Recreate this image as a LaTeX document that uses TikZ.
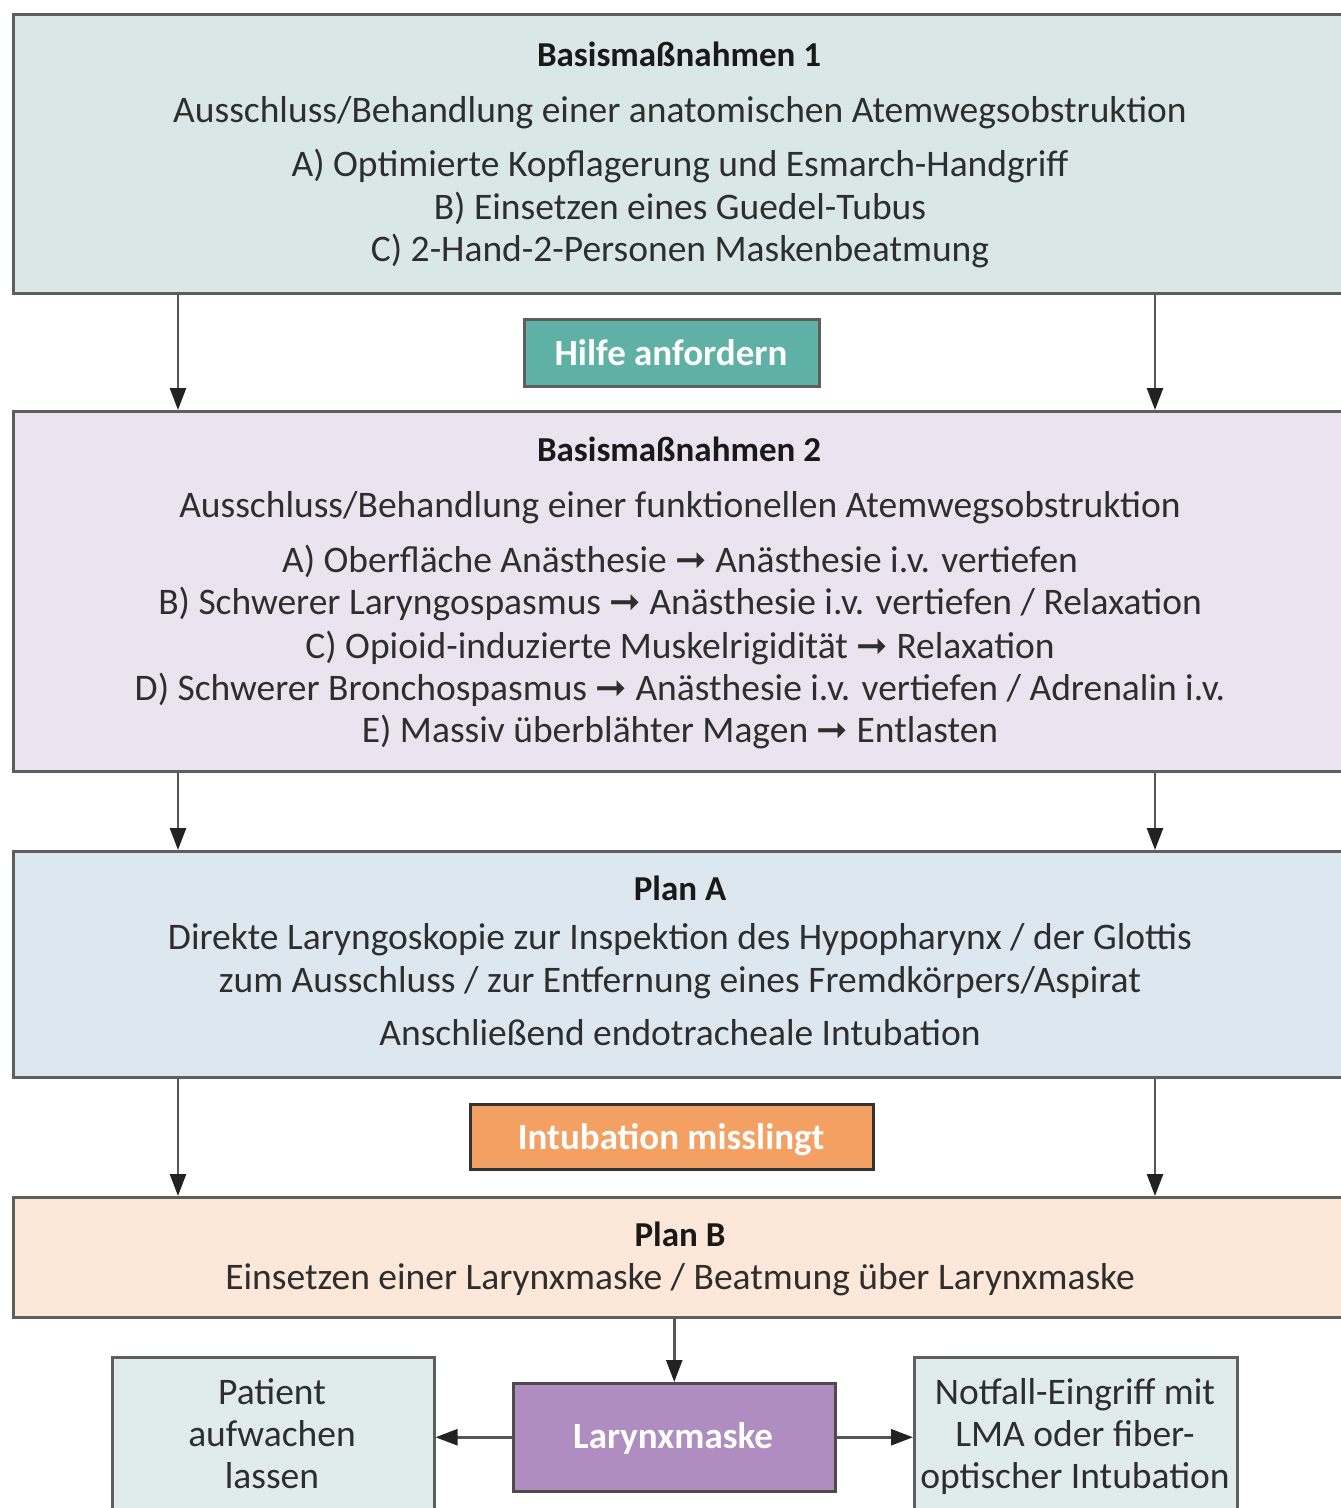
\documentclass[tikz,border=0pt]{standalone}
\usepackage{fontspec}
\setmainfont{Carlito}
\newfontfamily\symfont{DejaVu Sans}
\usetikzlibrary{arrows.meta}
\definecolor{bordc}{HTML}{5E5E5E}
\definecolor{linec}{HTML}{555555}
\definecolor{tipc}{HTML}{222222}
\definecolor{textc}{HTML}{2E2E2E}
\definecolor{fillone}{HTML}{D9E8E7}
\definecolor{filltwo}{HTML}{EBE3F0}
\definecolor{fillpa}{HTML}{DCE7F0}
\definecolor{fillpb}{HTML}{FDE7D9}
\definecolor{fillhelp}{HTML}{5FB0A5}
\definecolor{fillfail}{HTML}{F4A062}
\definecolor{filllm}{HTML}{B08DC1}
\definecolor{fillend}{HTML}{E0ECEA}
\newcommand{\myarrow}{{\symfont\char"279E}}
\begin{document}
\begin{tikzpicture}[x=1pt,y=-1pt,
  box/.style={draw=bordc, line width=2.5pt, rectangle, inner sep=0pt, anchor=north west},
  txt/.style={inner sep=0pt, anchor=base, text=textc, font=\fontsize{37.5}{44}\selectfont},
  ttl/.style={txt, text=black!90, font=\fontsize{35}{42}\selectfont\bfseries},
  wtxt/.style={inner sep=0pt, anchor=base, text=white, font=\fontsize{37}{44}\selectfont\bfseries},
  arr/.style={draw=linec, line width=2.5pt, -{Triangle[length=22pt,width=16pt,color=tipc]}}
]
\useasboundingbox (0,0) rectangle (1341,1508);
\clip (0,0) rectangle (1341,1508);
\fill[white] (0,0) rectangle (1341,1508);

% boxes
\node[box, fill=fillone, minimum width=1340pt, minimum height=279pt] (b1) at (12,13) {};
\node[box, fill=filltwo, minimum width=1340pt, minimum height=360pt] (b2) at (12,410) {};
\node[box, fill=fillpa, minimum width=1340pt, minimum height=226pt] (pa) at (12,850) {};
\node[box, fill=fillpb, minimum width=1340pt, minimum height=120pt] (pb) at (12,1196) {};
\node[box, fill=fillhelp, minimum width=295pt, minimum height=67pt] (help) at (523,318) {};
\node[box, fill=fillfail, draw=black!80, minimum width=403pt, minimum height=65pt] (fail) at (469,1103) {};
\node[box, fill=filllm, draw=black!70, minimum width=322pt, minimum height=108pt] (lm) at (512,1382) {};
\node[box, fill=fillend, minimum width=322pt, minimum height=200pt] (lb) at (111,1356) {};
\node[box, fill=fillend, minimum width=323pt, minimum height=200pt] (rb) at (913,1356) {};

\coordinate (L) at (178,0);
\coordinate (R) at (1155,0);

% connectors
\draw[arr] (b1.south -| L) -- (b2.north -| L);
\draw[arr] (b1.south -| R) -- (b2.north -| R);
\draw[arr] (b2.south -| L) -- (pa.north -| L);
\draw[arr] (b2.south -| R) -- (pa.north -| R);
\draw[arr] (pa.south -| L) -- (pb.north -| L);
\draw[arr] (pa.south -| R) -- (pb.north -| R);
\draw[arr] (pb.south -| lm.north) -- (lm.north);
\draw[arr] (lm.west) -- (lb.east |- lm.west);
\draw[arr] (lm.east) -- (rb.west |- lm.east);

% texts box 1
\node[ttl] (t11) at (679,66) {Basismaßnahmen 1};
\node[txt] (t12) at (680,122) {Ausschluss/Behandlung einer anatomischen Atemwegsobstruktion};
\node[txt] (t13) at (680,176) {A) Optimierte Kopflagerung und Esmarch-Handgriff};
\node[txt] (t14) at (680,219) {B) Einsetzen eines Guedel-Tubus};
\node[txt] (t15) at (680,261) {C) 2-Hand-2-Personen Maskenbeatmung};

\node[wtxt] (th) at (671,365) {Hilfe anfordern};

% texts box 2
\node[ttl] (t21) at (679,461) {Basismaßnahmen 2};
\node[txt] (t22) at (680,517) {Ausschluss/Behandlung einer funktionellen Atemwegsobstruktion};
\node[txt] (t23) at (680,572) {A) Oberfläche Anästhesie \myarrow{} Anästhesie i.v. vertiefen};
\node[txt] (t24) at (680,614) {B) Schwerer Laryngospasmus \myarrow{} Anästhesie i.v. vertiefen / Relaxation};
\node[txt] (t25) at (680,658) {C) Opioid-induzierte Muskelrigidität \myarrow{} Relaxation};
\node[txt] (t26) at (680,700) {D) Schwerer Bronchospasmus \myarrow{} Anästhesie i.v. vertiefen / Adrenalin i.v.};
\node[txt] (t27) at (680,742) {E) Massiv überblähter Magen \myarrow{} Entlasten};

% plan A
\node[ttl] (ta1) at (680,900) {Plan A};
\node[txt] (ta2) at (680,949) {Direkte Laryngoskopie zur Inspektion des Hypopharynx / der Glottis};
\node[txt] (ta3) at (680,992) {zum Ausschluss / zur Entfernung eines Fremdkörpers/Aspirat};
\node[txt] (ta4) at (680,1045) {Anschließend endotracheale Intubation};

\node[wtxt] (tf) at (671,1149) {Intubation misslingt};

% plan B
\node[ttl] (tb1) at (680,1246) {Plan B};
\node[txt] (tb2) at (680,1289) {Einsetzen einer Larynxmaske / Beatmung über Larynxmaske};

\node[wtxt] (tl) at (673,1448) {Larynxmaske};

\node[txt] (tl1) at (272,1404) {Patient};
\node[txt] (tl2) at (272,1446) {aufwachen};
\node[txt] (tl3) at (272,1488) {lassen};

\node[txt] (tr1) at (1075,1404) {Notfall-Eingriff mit};
\node[txt] (tr2) at (1075,1446) {LMA oder fiber-};
\node[txt] (tr3) at (1075,1488) {optischer Intubation};
\end{tikzpicture}
\end{document}
